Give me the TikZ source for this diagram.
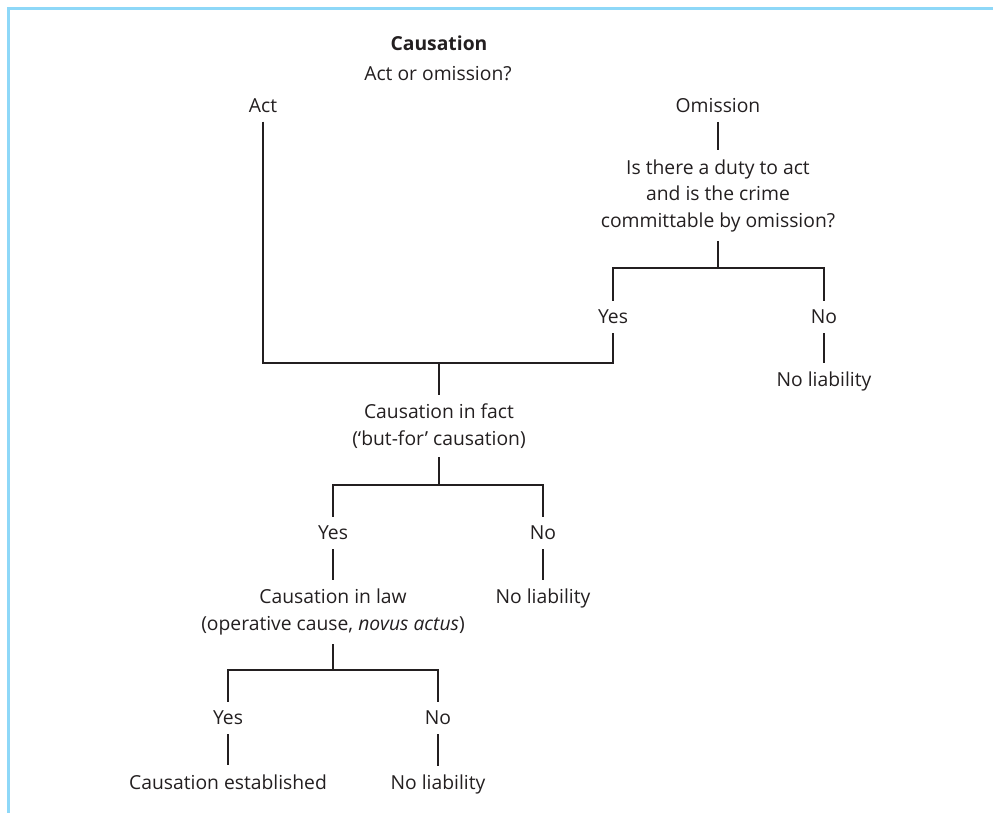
\documentclass[tikz,border=0pt]{standalone}
\usepackage{fontspec}
\setmainfont{Open Sans}
\definecolor{frameblue}{HTML}{8ED8F8}
\definecolor{ink}{HTML}{231F20}
\begin{document}
\begin{tikzpicture}[x=1pt,y=-1pt,
  lbl/.style={font=\fontsize{19.3}{26.5}\selectfont, text=ink, align=center, inner xsep=2pt, inner ysep=9pt},
  conn/.style={draw=ink, line width=1.1pt}]
\useasboundingbox (0,0) rectangle (993,813);
% frame
\draw[frameblue, line width=3pt] (8.5,813) -- (8.5,8.5) -- (993,8.5);
% nodes
\node[lbl, font=\fontsize{19.3}{26.5}\selectfont\bfseries] (title) at (439,43) {Causation};
\node[lbl] (aoo) at (438,74) {Act or omission?};
\node[lbl] (act) at (263,105.5) {Act};
\node[lbl] (om) at (718,105.5) {Omission};
\node[lbl] (q) at (718,195.5) {Is there a duty to act\\and is the crime\\committable by omission?};
\node[lbl] (y1) at (613,317) {Yes};
\node[lbl] (n1) at (824,317) {No};
\node[lbl] (nl1) at (824,381.5) {No liability};
\node[lbl] (fact) at (439,426) {Causation in fact\\(‘but-for’ causation)};
\node[lbl] (y2) at (333,533) {Yes};
\node[lbl] (n2) at (543,533) {No};
\node[lbl] (law) at (333,612) {Causation in law\\(operative cause, \textit{novus actus})};
\node[lbl] (nl2) at (543,598.5) {No liability};
\node[lbl] (y3) at (228,718) {Yes};
\node[lbl] (n3) at (438,718) {No};
\node[lbl] (est) at (228,782) {Causation established};
\node[lbl] (nl3) at (438,784.5) {No liability};
% junctions
\coordinate (j1) at (718,268);
\coordinate (j2) at (439,363);
\coordinate (j3) at (439,485);
\coordinate (j4) at (333,670);
% connectors
\draw[conn] (om.south) -- (q.north);
\draw[conn] (q.south) -- (j1);
\draw[conn] (y1.north) -- (y1.north |- j1) -- (n1.north |- j1) -- (n1.north);
\draw[conn] (n1.south) -- (nl1.north);
\draw[conn] (act.south) -- (act.south |- j2) -- (y1.south |- j2) -- (y1.south);
\draw[conn] (j2) -- (fact.north);
\draw[conn] (fact.south) -- (j3);
\draw[conn] (y2.north) -- (y2.north |- j3) -- (n2.north |- j3) -- (n2.north);
\draw[conn] (y2.south) -- (law.north);
\draw[conn] (n2.south) -- (nl2.north);
\draw[conn] (law.south) -- (j4);
\draw[conn] (y3.north) -- (y3.north |- j4) -- (n3.north |- j4) -- (n3.north);
\draw[conn] (y3.south) -- (est.north);
\draw[conn] (n3.south) -- (nl3.north);
\end{tikzpicture}
\end{document}
